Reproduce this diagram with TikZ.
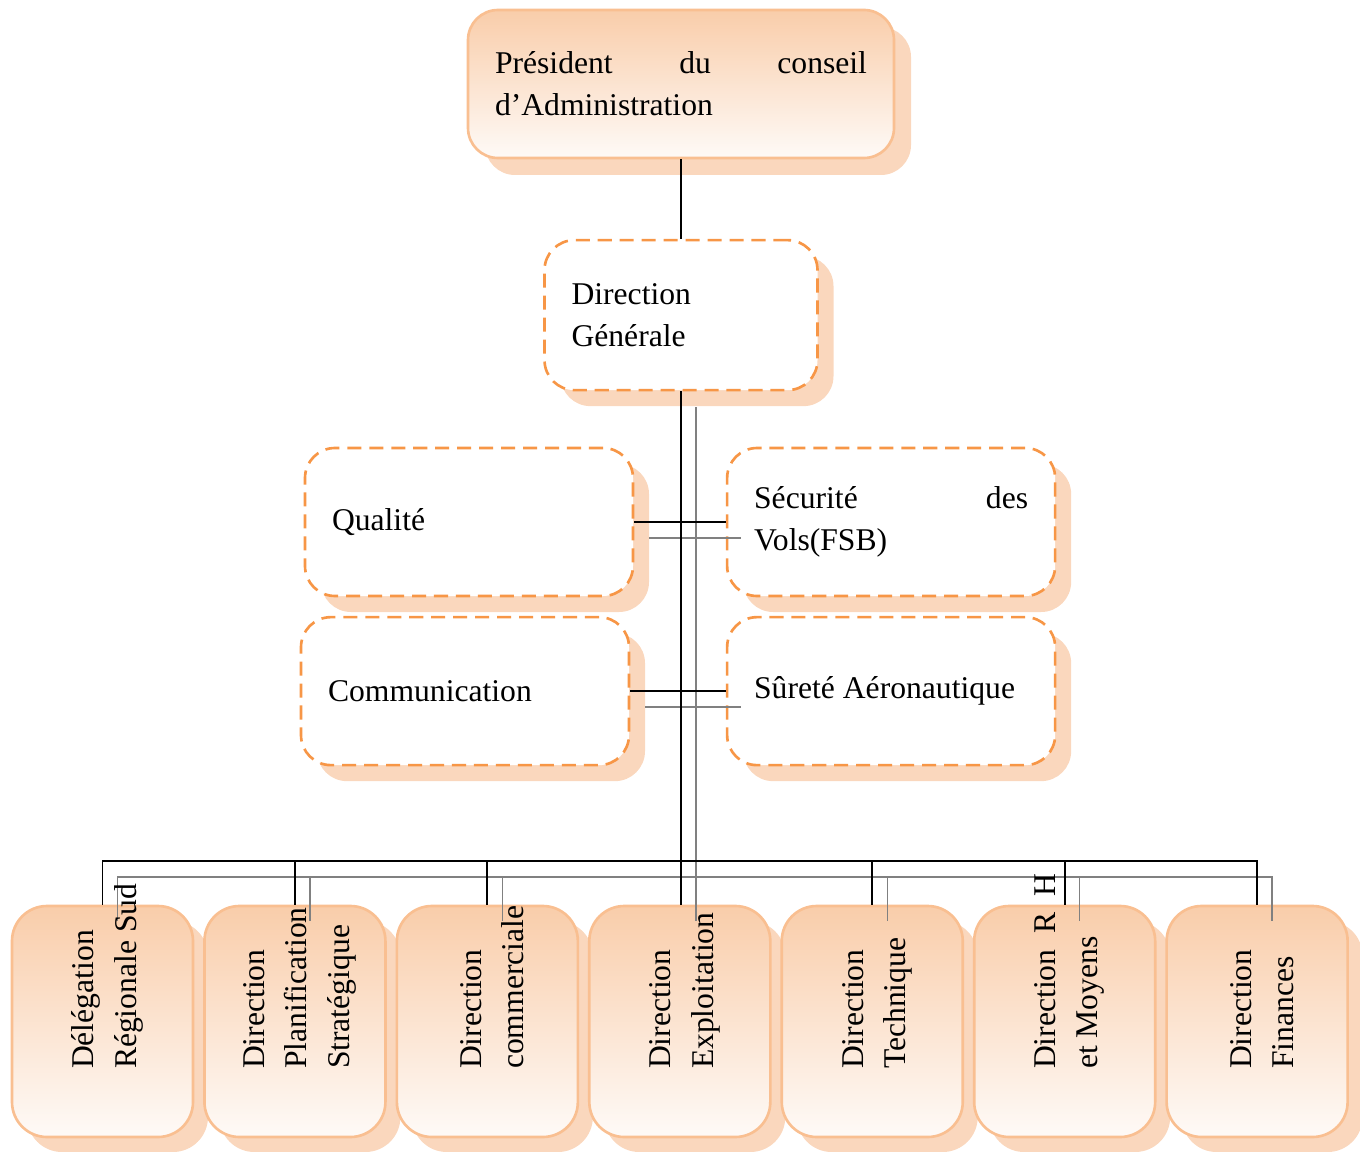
\documentclass[tikz,border=0pt]{standalone}
\usepackage{fontspec}
\setmainfont{Liberation Serif}
\usepackage{xcolor}
\usetikzlibrary{positioning, shadows}

\definecolor{peachtop}{HTML}{F9CDAA}
\definecolor{peachbot}{HTML}{FEFAF7}
\definecolor{peachline}{HTML}{F9BF91}
\definecolor{dashorange}{HTML}{F79646}
\definecolor{peachshadow}{HTML}{FAD7BD}

\begin{document}
\begin{tikzpicture}[font=\fontsize{18}{24}\selectfont]
\tikzstyle{head} = [rectangle, draw=peachline, line width=1.5pt, rounded corners=0.6cm, top color=peachtop, bottom color=peachbot, text width=7.44cm, inner xsep=0.54cm, minimum height=2.96cm, align=flush left, drop shadow={shadow xshift=0.34cm, shadow yshift=-0.34cm, fill=peachshadow, opacity=1}]
\tikzstyle{dashbox} = [rectangle, draw=dashorange, line width=1.5pt, dash pattern=on 8pt off 4.5pt, rounded corners=0.6cm, fill=white, text width=5.48cm, inner xsep=0.54cm, minimum height=2.96cm, align=flush left, drop shadow={shadow xshift=0.32cm, shadow yshift=-0.32cm, fill=peachshadow, opacity=1}]
\tikzstyle{low} = [rectangle, draw=peachline, line width=1.5pt, rounded corners=0.7cm, top color=peachtop, bottom color=peachbot, minimum width=3.62cm, minimum height=4.62cm, drop shadow={shadow xshift=0.3cm, shadow yshift=-0.3cm, fill=peachshadow, opacity=1}]
\tikzstyle{lowtext} = [rotate=90, anchor=west, text width=3.9cm, align=flush left, inner sep=0pt]
\tikzstyle{link} = [line width=1.1pt, black]
\tikzstyle{ghost} = [line width=0.8pt, gray, transform canvas={xshift=0.3cm, yshift=-0.32cm}]

\useasboundingbox (0,0) rectangle (27.2,23.02);

\node (pca) [head] at (13.62,21.34) {Président\hfill du\hfill conseil\\d’Administration};
\node (dg) [dashbox, text width=4.38cm, minimum height=3cm, below=1.59cm of pca] {Direction\\Générale};

\node (qual) [dashbox] at (9.38,12.58) {Qualité};
\node (secu) [dashbox, right=1.83cm of qual] {Sécurité\hfill des\\Vols(FSB)};
\node (comm) [dashbox, below=0.37cm of qual, xshift=-0.08cm] {Communication};
\node (surete) [dashbox, below=0.37cm of secu] {Sûreté Aéronautique};

\node (dr) [low] at (2.05,2.59) {};
\node (dps) [low, right=0.176cm of dr] {};
\node (dc) [low, right=0.176cm of dps] {};
\node (dex) [low, right=0.176cm of dc] {};
\node (dt) [low, right=0.176cm of dex] {};
\node (drh) [low, right=0.176cm of dt] {};
\node (df) [low, right=0.176cm of drh] {};

\coordinate (bus) at (13.62,5.8);

\draw [ghost] (dg.south) -- (dg.south |- dex.north);
\draw [ghost] (qual.east) -- (secu.west);
\draw [ghost] (comm.east) -- (surete.west);
\foreach \b in {dr, dps, dc, dt, drh, df}
  \draw [ghost] (bus) -| (\b.north);

\draw [link] (pca) -- (dg);
\draw [link] (dg.south) -- (dg.south |- dex.north);
\draw [link] (qual.east) -- (secu.west);
\draw [link] (comm.east) -- (surete.west);
\foreach \b in {dr, dps, dc, dt, drh, df}
  \draw [link] (bus) -| (\b.north);

\node (dr-t) [lowtext] at ([xshift=0.1cm, yshift=1.38cm]dr.south) {Délégation\\Régionale Sud};
\node (dps-t) [lowtext] at ([xshift=0.1cm, yshift=1.38cm]dps.south) {Direction\\Planification\\Stratégique};
\node (dc-t) [lowtext] at ([xshift=0.1cm, yshift=1.38cm]dc.south) {Direction\\commerciale};
\node (dex-t) [lowtext] at ([xshift=0.1cm, yshift=1.38cm]dex.south) {Direction\\Exploitation};
\node (dt-t) [lowtext] at ([xshift=0.1cm, yshift=1.38cm]dt.south) {Direction\\Technique};
\node (drh-t) [lowtext] at ([xshift=0.1cm, yshift=1.38cm]drh.south) {Direction\hfill R\hfill H\\et Moyens};
\node (df-t) [lowtext] at ([xshift=0.1cm, yshift=1.38cm]df.south) {Direction\\Finances};

\end{tikzpicture}
\end{document}
